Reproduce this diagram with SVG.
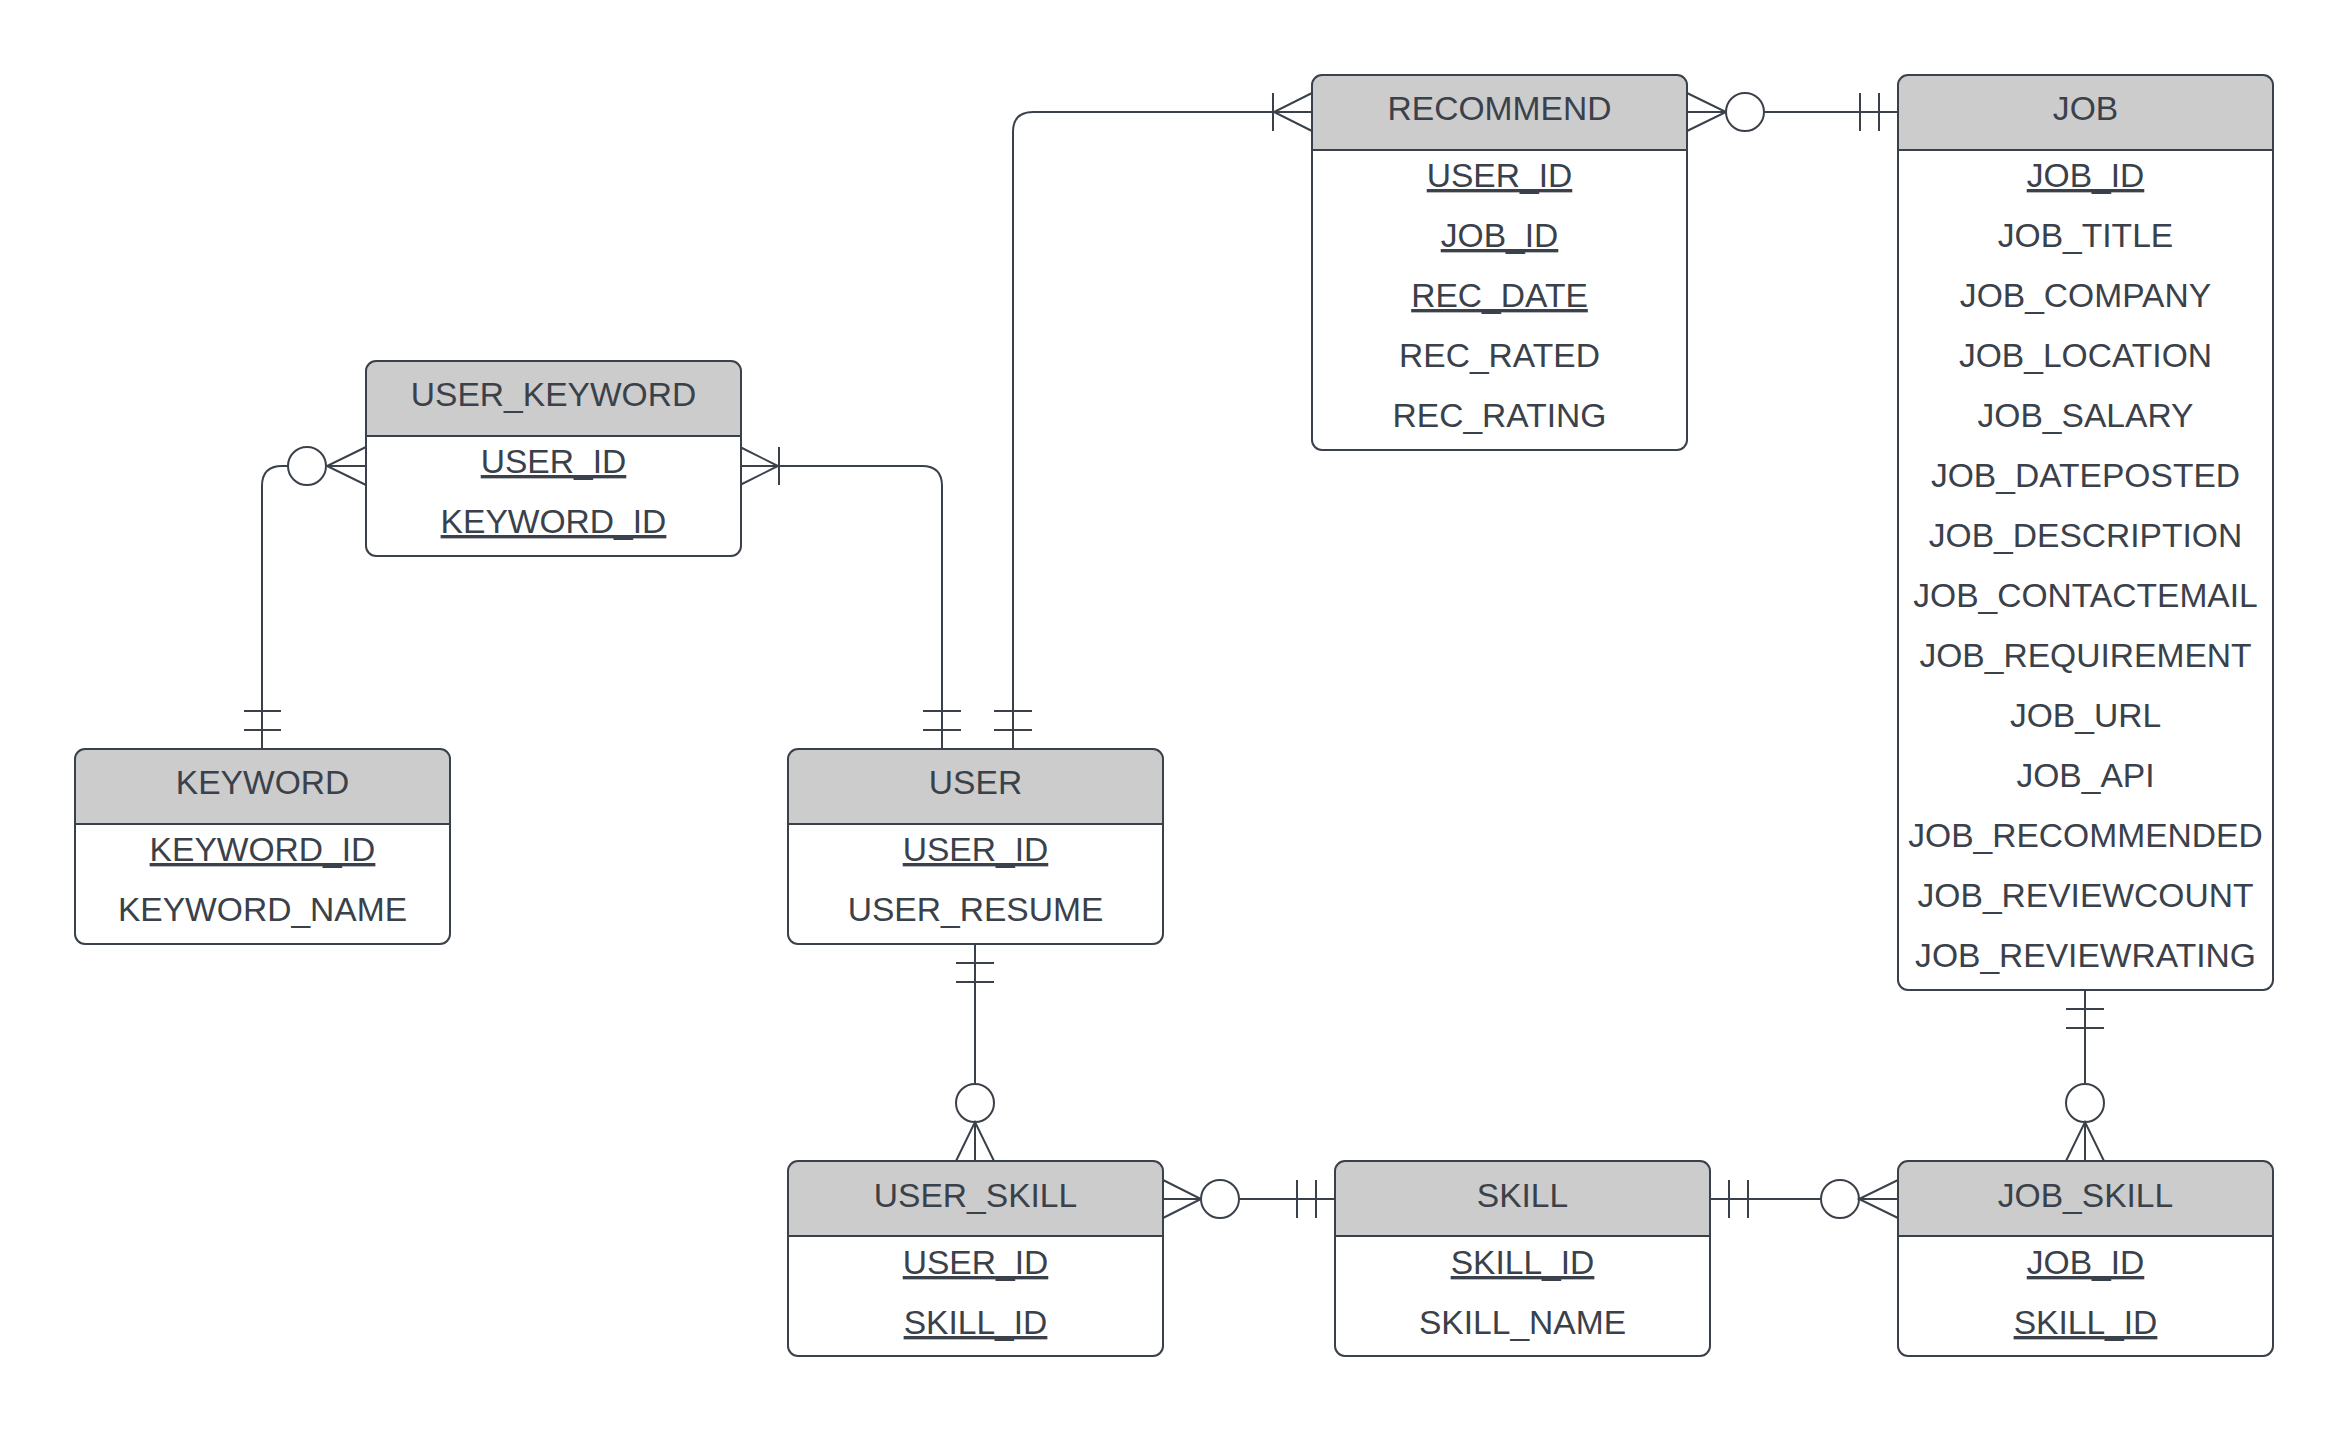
<svg xmlns="http://www.w3.org/2000/svg" width="2349" height="1433" viewBox="0 0 2349 1433">
<style>
.box{fill:none;stroke:#3a414a;stroke-width:2}
.bg{fill:#ffffff}
.hd{fill:#cccccc}
.div{stroke:#3a414a;stroke-width:2}
text{font-family:"Liberation Sans",Arial,sans-serif;font-size:33.6px;fill:#3a414a;text-anchor:middle}
.pk{text-decoration:underline}
.c{fill:none;stroke:#3a414a;stroke-width:2}
.o{fill:#ffffff;stroke:#3a414a;stroke-width:2}
</style>
<defs>
<path id="hdr" d="M0,75 V10 Q0,0 10,0 H365 Q375,0 375,10 V75 Z"/>
</defs>
<rect width="2349" height="1433" fill="#ffffff"/>

<g id="connectors">
  <!-- KEYWORD - USER_KEYWORD -->
  <path class="c" d="M262,749 V486 Q262,466 282,466 H288"/>
  <path class="c" d="M326,466 H366 M366,447 L327,466 L366,485"/>
  <circle class="o" cx="307" cy="466" r="19"/>
  <path class="c" d="M244,711 H281 M244,730 H281"/>
  <!-- USER_KEYWORD - USER -->
  <path class="c" d="M740,466 H922 Q942,466 942,486 V749"/>
  <path class="c" d="M740,447 L778,466 L740,485 M779,447 V485"/>
  <path class="c" d="M923,711 H961 M923,730 H961"/>
  <!-- USER - RECOMMEND -->
  <path class="c" d="M1013,749 V132 Q1013,112 1033,112 H1312"/>
  <path class="c" d="M1312,93 L1274,112 L1312,131 M1273,93 V131"/>
  <path class="c" d="M994,711 H1032 M994,730 H1032"/>
  <!-- RECOMMEND - JOB -->
  <path class="c" d="M1687,112 H1726 M1687,93 L1726,112 L1687,131"/>
  <circle class="o" cx="1745" cy="112" r="19"/>
  <path class="c" d="M1764,112 H1898 M1860,93 V131 M1879,93 V131"/>
  <!-- USER - USER_SKILL -->
  <path class="c" d="M975,944 V1084 M956,963 H994 M956,982 H994"/>
  <circle class="o" cx="975" cy="1103" r="19"/>
  <path class="c" d="M975,1122 V1161 M956,1161 L975,1122 L994,1161"/>
  <!-- USER_SKILL - SKILL -->
  <path class="c" d="M1163,1199 H1201 M1163,1180 L1201,1199 L1163,1218"/>
  <circle class="o" cx="1220" cy="1199" r="19"/>
  <path class="c" d="M1239,1199 H1335 M1297,1180 V1218 M1316,1180 V1218"/>
  <!-- SKILL - JOB_SKILL -->
  <path class="c" d="M1710,1199 H1821 M1729,1180 V1218 M1748,1180 V1218"/>
  <circle class="o" cx="1840" cy="1199" r="19"/>
  <path class="c" d="M1859,1199 H1898 M1898,1180 L1859,1199 L1898,1218"/>
  <!-- JOB - JOB_SKILL -->
  <path class="c" d="M2085,990 V1084 M2066,1009 H2104 M2066,1028 H2104"/>
  <circle class="o" cx="2085" cy="1103" r="19"/>
  <path class="c" d="M2085,1122 V1161 M2066,1161 L2085,1122 L2104,1161"/>
</g>

<g id="RECOMMEND" transform="translate(1312,75)">
  <rect class="bg" width="375" height="375" rx="10"/>
  <use href="#hdr" class="hd"/>
  <line class="div" x1="0" y1="75" x2="375" y2="75"/>
  <rect class="box" width="375" height="375" rx="10"/>
  <text x="187.5" y="45">RECOMMEND</text>
  <text class="pk" x="187.5" y="112">USER_ID</text>
  <text class="pk" x="187.5" y="172">JOB_ID</text>
  <text class="pk" x="187.5" y="232">REC_DATE</text>
  <text x="187.5" y="292">REC_RATED</text>
  <text x="187.5" y="352">REC_RATING</text>
</g>

<g id="JOB" transform="translate(1898,75)">
  <rect class="bg" width="375" height="915" rx="10"/>
  <use href="#hdr" class="hd"/>
  <line class="div" x1="0" y1="75" x2="375" y2="75"/>
  <rect class="box" width="375" height="915" rx="10"/>
  <text x="187.5" y="45">JOB</text>
  <text class="pk" x="187.5" y="112">JOB_ID</text>
  <text x="187.5" y="172">JOB_TITLE</text>
  <text x="187.5" y="232">JOB_COMPANY</text>
  <text x="187.5" y="292">JOB_LOCATION</text>
  <text x="187.5" y="352">JOB_SALARY</text>
  <text x="187.5" y="412">JOB_DATEPOSTED</text>
  <text x="187.5" y="472">JOB_DESCRIPTION</text>
  <text x="187.5" y="532">JOB_CONTACTEMAIL</text>
  <text x="187.5" y="592">JOB_REQUIREMENT</text>
  <text x="187.5" y="652">JOB_URL</text>
  <text x="187.5" y="712">JOB_API</text>
  <text x="187.5" y="772">JOB_RECOMMENDED</text>
  <text x="187.5" y="832">JOB_REVIEWCOUNT</text>
  <text x="187.5" y="892">JOB_REVIEWRATING</text>
</g>

<g id="USER_KEYWORD" transform="translate(366,361)">
  <rect class="bg" width="375" height="195" rx="10"/>
  <use href="#hdr" class="hd"/>
  <line class="div" x1="0" y1="75" x2="375" y2="75"/>
  <rect class="box" width="375" height="195" rx="10"/>
  <text x="187.5" y="45">USER_KEYWORD</text>
  <text class="pk" x="187.5" y="112">USER_ID</text>
  <text class="pk" x="187.5" y="172">KEYWORD_ID</text>
</g>

<g id="KEYWORD" transform="translate(75,749)">
  <rect class="bg" width="375" height="195" rx="10"/>
  <use href="#hdr" class="hd"/>
  <line class="div" x1="0" y1="75" x2="375" y2="75"/>
  <rect class="box" width="375" height="195" rx="10"/>
  <text x="187.5" y="45">KEYWORD</text>
  <text class="pk" x="187.5" y="112">KEYWORD_ID</text>
  <text x="187.5" y="172">KEYWORD_NAME</text>
</g>

<g id="USER" transform="translate(788,749)">
  <rect class="bg" width="375" height="195" rx="10"/>
  <use href="#hdr" class="hd"/>
  <line class="div" x1="0" y1="75" x2="375" y2="75"/>
  <rect class="box" width="375" height="195" rx="10"/>
  <text x="187.5" y="45">USER</text>
  <text class="pk" x="187.5" y="112">USER_ID</text>
  <text x="187.5" y="172">USER_RESUME</text>
</g>

<g id="USER_SKILL" transform="translate(788,1161)">
  <rect class="bg" width="375" height="195" rx="10"/>
  <use href="#hdr" class="hd"/>
  <line class="div" x1="0" y1="75" x2="375" y2="75"/>
  <rect class="box" width="375" height="195" rx="10"/>
  <text x="187.5" y="46">USER_SKILL</text>
  <text class="pk" x="187.5" y="113">USER_ID</text>
  <text class="pk" x="187.5" y="173">SKILL_ID</text>
</g>

<g id="SKILL" transform="translate(1335,1161)">
  <rect class="bg" width="375" height="195" rx="10"/>
  <use href="#hdr" class="hd"/>
  <line class="div" x1="0" y1="75" x2="375" y2="75"/>
  <rect class="box" width="375" height="195" rx="10"/>
  <text x="187.5" y="46">SKILL</text>
  <text class="pk" x="187.5" y="113">SKILL_ID</text>
  <text x="187.5" y="173">SKILL_NAME</text>
</g>

<g id="JOB_SKILL" transform="translate(1898,1161)">
  <rect class="bg" width="375" height="195" rx="10"/>
  <use href="#hdr" class="hd"/>
  <line class="div" x1="0" y1="75" x2="375" y2="75"/>
  <rect class="box" width="375" height="195" rx="10"/>
  <text x="187.5" y="46">JOB_SKILL</text>
  <text class="pk" x="187.5" y="113">JOB_ID</text>
  <text class="pk" x="187.5" y="173">SKILL_ID</text>
</g>
</svg>
